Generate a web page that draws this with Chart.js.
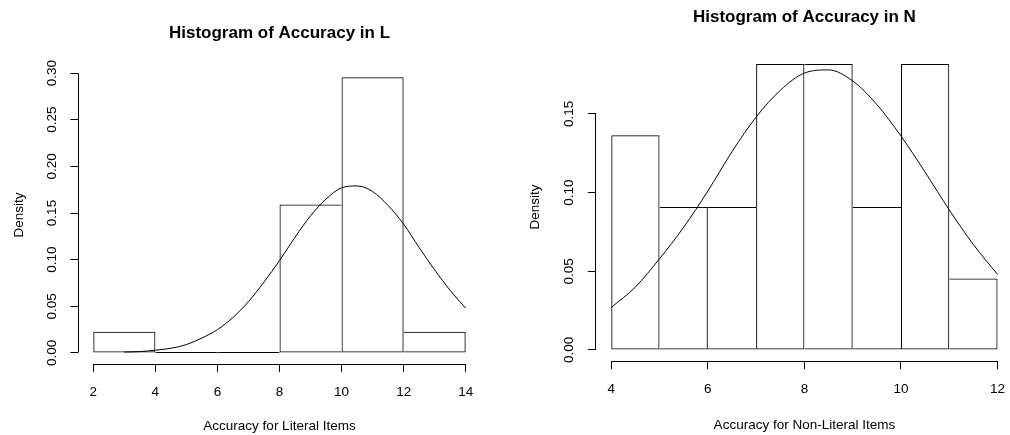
<!DOCTYPE html>
<html><head><meta charset="utf-8">
<script src="https://cdn.jsdelivr.net/npm/chart.js@4.4.0/dist/chart.umd.min.js"></script>
<style>
html,body{margin:0;padding:0;background:#fff;overflow:hidden;width:1010px;height:435px;position:relative;}
canvas{position:absolute;top:0;}
#c1{left:0;} #c2{left:505px;}
</style></head><body>
<canvas id="c1" width="505" height="435"></canvas>
<canvas id="c2" width="520" height="435"></canvas>
<script>
// ---- Left panel data ----
const litTitle = "Histogram of Accuracy in L";
const litXLabel = "Accuracy for Literal Items";
const litBreaks = [2, 4, 6, 8, 10, 12, 14];
const litDensity = [0.0227, 0, 0, 0.1591, 0.2955, 0.0227];
const litCurveX = [3, 3.5, 4, 4.5, 5, 5.5, 6, 6.5, 7, 7.5, 8, 8.5, 9, 9.5, 10, 10.5, 11, 11.5, 12, 12.5, 13, 13.5, 14];
const litCurveY = [0.001, 0.0015, 0.003, 0.005, 0.009, 0.016, 0.025, 0.038, 0.055, 0.076, 0.099, 0.124, 0.147, 0.165, 0.177, 0.179, 0.173, 0.158, 0.138, 0.113, 0.089, 0.067, 0.048];
const litXTicks = [2, 4, 6, 8, 10, 12, 14];
const litYTicks = [0, 0.05, 0.10, 0.15, 0.20, 0.25, 0.30];

// ---- Right panel data ----
const nonTitle = "Histogram of Accuracy in N";
const nonXLabel = "Accuracy for Non-Literal Items";
const nonBreaks = [4, 5, 6, 7, 8, 9, 10, 11, 12];
const nonDensity = [0.1364, 0.0909, 0.0909, 0.1818, 0.1818, 0.0909, 0.1818, 0.0455];
const nonCurveX = [4, 4.5, 5, 5.5, 6, 6.5, 7, 7.5, 8, 8.5, 9, 9.5, 10, 10.5, 11, 11.5, 12];
const nonCurveY = [0.027, 0.040, 0.058, 0.078, 0.101, 0.126, 0.148, 0.165, 0.176, 0.178, 0.171, 0.156, 0.136, 0.113, 0.089, 0.067, 0.048];
const nonXTicks = [4, 6, 8, 10, 12];
const nonYTicks = [0, 0.05, 0.10, 0.15];

const yLabel = "Density";

const FONT = "'Liberation Sans', Arial, Helvetica, sans-serif";
Chart.defaults.font.family = FONT;
Chart.defaults.color = '#000';

// R-style axis lines: from first to last tick only
const rAxes = {
  id: 'rAxes',
  afterDraw(chart) {
    const ctx = chart.ctx, ca = chart.chartArea;
    const al = v => Math.round(v - 0.5) + 0.5;
    const xs = chart.scales.x, ys = chart.scales.y;
    const xt = xs.ticks, yt = ys.ticks;
    ctx.save();
    ctx.strokeStyle = '#000';
    ctx.lineWidth = 1;
    ctx.beginPath();
    const y0 = al(ca.bottom);
    ctx.moveTo(al(xs.getPixelForValue(xt[0].value)), y0);
    ctx.lineTo(al(xs.getPixelForValue(xt[xt.length - 1].value)), y0);
    const x0 = al(ca.left);
    ctx.moveTo(x0, al(ys.getPixelForValue(yt[0].value)));
    ctx.lineTo(x0, al(ys.getPixelForValue(yt[yt.length - 1].value)));
    ctx.stroke();
    ctx.restore();
  }
};

// Each shared bin edge is drawn once, by the taller bin; empty bins show only their baseline
function edgeWidths(dens) {
  return (c) => {
    const i = c.dataIndex, h = dens[i];
    if (h === 0) return { top: 1, bottom: 0, left: 0, right: 0 };
    const prev = i > 0 ? dens[i - 1] : -1;
    const next = i < dens.length - 1 ? dens[i + 1] : -1;
    return { top: 1, bottom: 1, left: h > prev ? 1 : 0, right: h >= next ? 1 : 0 };
  };
}

function build(id, o) {
  const W = o.W, H = o.H, A = o.area;
  const tickFont = { family: FONT, size: 13.5 };
  const titleSize = 17;
  const titleLH = titleSize * 1.2;
  const xLo = o.breaks[0], xHi = o.breaks[o.breaks.length - 1];
  const xPad = 0.04 * (xHi - xLo);
  const yHi = Math.max(...o.density);
  const yPad = 0.04 * yHi;
  const bars = o.density.map((d, i) => ({ x: (o.breaks[i] + o.breaks[i + 1]) / 2, y: d }));
  const curve = o.curveX.map((x, i) => ({ x: x, y: o.curveY[i] }));
  const gridOpts = { display: true, offset: false, drawOnChartArea: false, drawTicks: true, tickLength: 8, color: '#000', lineWidth: 1 };
  return new Chart(document.getElementById(id), {
    type: 'bar',
    data: {
      datasets: [
        { type: 'line', data: curve, borderColor: '#000', borderWidth: 1, pointRadius: 0,
          cubicInterpolationMode: 'monotone', fill: false, order: 0 },
        { type: 'bar', data: bars, backgroundColor: 'rgba(0,0,0,0)', borderColor: '#000',
          borderWidth: edgeWidths(o.density), borderSkipped: false, inflateAmount: 0,
          minBarLength: 2, barPercentage: 1, categoryPercentage: 1, order: 1 }
      ]
    },
    options: {
      responsive: false, animation: false, devicePixelRatio: 1,
      layout: { padding: { left: 0, top: 0, bottom: 0, right: W - A.R } },
      plugins: {
        legend: { display: false },
        tooltip: { enabled: false },
        title: { display: true, text: o.title, fullSize: false, color: '#000',
          font: { family: FONT, size: titleSize, weight: 'bold' },
          padding: { top: o.titleTop, bottom: A.T - o.titleTop - titleLH } }
      },
      scales: {
        x: {
          type: 'linear', min: xLo - xPad, max: xHi + xPad, offset: false, bounds: 'data',
          afterBuildTicks: s => { s.ticks = o.xTicks.map(v => ({ value: v })); },
          afterFit: s => { s.height = H - A.B; },
          grid: gridOpts,
          border: { display: false },
          ticks: { font: tickFont, color: '#000', padding: o.xTickPad, minRotation: 0, maxRotation: 0,
            autoSkip: false, callback: v => String(v) },
          title: { display: true, text: o.xLabel, color: '#000', font: tickFont,
            padding: { top: 0, bottom: o.xTitlePad } }
        },
        y: {
          type: 'linear', min: -yPad, max: yHi + yPad, bounds: 'data', beginAtZero: false,
          afterBuildTicks: s => { s.ticks = o.yTicks.map(v => ({ value: v })); },
          afterFit: s => { s.width = A.L; },
          grid: gridOpts,
          border: { display: false },
          ticks: { font: tickFont, color: '#000', padding: o.yTickPad, minRotation: 90, maxRotation: 90,
            crossAlign: 'center', autoSkip: false, callback: v => Number(v).toFixed(2) },
          title: { display: true, text: yLabel, color: '#000', font: tickFont,
            padding: { top: o.yTitlePad, bottom: 0 } }
        }
      }
    },
    plugins: [rAxes]
  });
}

build('c1', {
  W: 505, H: 435,
  area: { L: 78.4, T: 66.2, R: 480.6, B: 364 },
  title: litTitle, xLabel: litXLabel,
  breaks: litBreaks, density: litDensity, curveX: litCurveX, curveY: litCurveY,
  xTicks: litXTicks, yTicks: litYTicks,
  titleTop: 22.8, xTickPad: 12.2, yTickPad: 5.3, xTitlePad: 0.2, yTitlePad: 10.9
});

build('c2', {
  W: 520, H: 435,
  area: { L: 90.8, T: 52.5, R: 508, B: 361.4 },
  title: nonTitle, xLabel: nonXLabel,
  breaks: nonBreaks, density: nonDensity, curveX: nonCurveX, curveY: nonCurveY,
  xTicks: nonXTicks, yTicks: nonYTicks,
  titleTop: 7.1, xTickPad: 11.5, yTickPad: 5.7, xTitlePad: 1.9, yTitlePad: 21.9
});
</script>
</body></html>
